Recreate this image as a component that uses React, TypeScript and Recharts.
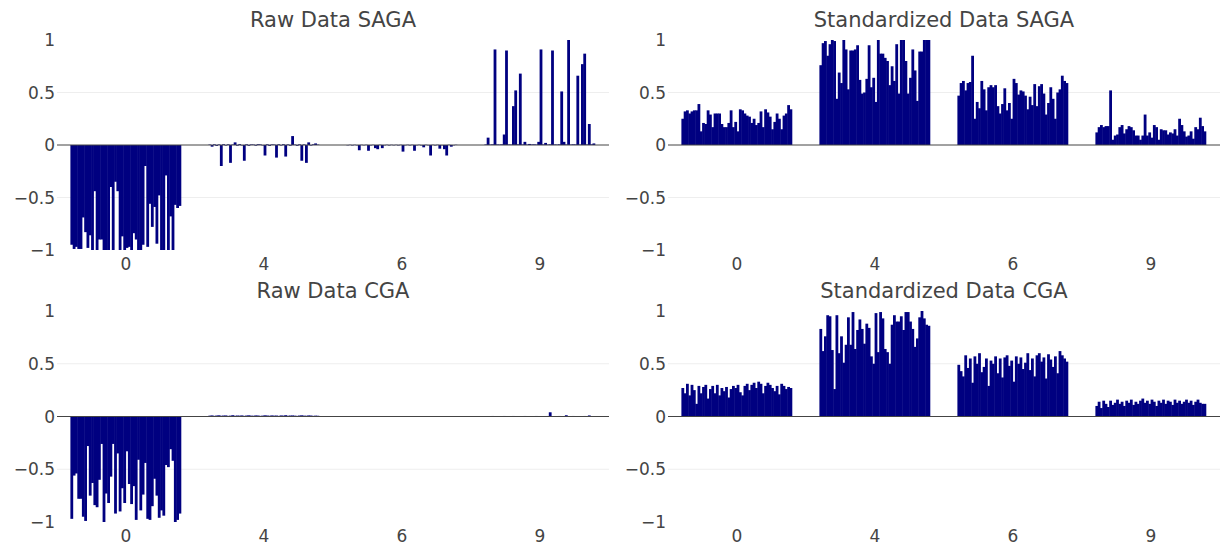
import React from "react";
import { BarChart, Bar, XAxis, YAxis, ReferenceLine, CartesianGrid } from "recharts";

// Class labels shown under each group of bars
const classLabels = ["0", "4", "6", "9"];
const yTicks = [-1, -0.5, 0, 0.5, 1];
const gridValues = [-0.5, 0.5];

// Raw Data SAGA, one array per class
const sagaRaw0 = [
  -0.95, -0.99, -0.97, -0.99, -0.99, -0.69, -0.83, -0.98, -0.86, -1.0,
  -0.44, -1.0, -0.9, -0.9, -1.0, -1.0, -1.0, -0.4, -1.0, -0.35,
  -0.44, -1.0, -0.87, -1.0, -0.98, -0.97, -1.0, -0.84, -0.9, -1.0,
  -1.0, -0.95, -0.2, -0.97, -0.56, -0.78, -0.59, -0.94, -0.48, -1.0,
  -1.0, -0.29, -1.0, -0.68, -1.0, -0.57, -0.6, -0.58,
];
const sagaRaw4 = [
  0.004, -0.016, 0.006, -0.008, 0.005, -0.2, 0.007, -0.005, 0.006, -0.17,
  0.004, 0.025, -0.006, 0.008, -0.004, -0.15, 0.006, -0.007, 0.005, 0.004,
  -0.006, 0.007, 0.005, -0.004, -0.1, 0.006, -0.008, 0.005, 0.004, -0.12,
  0.006, -0.005, 0.007, -0.11, 0.005, -0.006, 0.085, 0.004, -0.007, 0.006,
  -0.15, 0.005, -0.17, 0.025, -0.005, 0.006, 0.015, 0.004,
];
const sagaRaw6 = [
  -0.003, 0.002, -0.004, 0.002, -0.003, -0.05, 0.002, -0.003, 0.002, -0.055,
  -0.004, 0.002, -0.03, -0.04, 0.002, -0.03, -0.003, 0.002, -0.004, 0.002,
  -0.003, 0.002, -0.004, 0.002, -0.063, -0.003, 0.002, -0.004, 0.002, -0.055,
  -0.003, 0.002, -0.004, -0.022, 0.002, -0.003, -0.1, 0.002, -0.004, 0.002,
  -0.035, -0.003, -0.04, -0.1, 0.002, -0.016, -0.003, 0.002,
];
const sagaRaw9 = [
  0.005, 0.07, 0.004, 0.006, 0.91, 0.005, 0.004, 0.006, 0.1, 0.9,
  0.005, 0.004, 0.37, 0.52, 0.006, 0.68, 0.005, 0.03, 0.004, 0.01,
  0.005, 0.006, 0.004, 0.03, 0.91, 0.005, 0.02, 0.004, 0.006, 0.9,
  0.005, 0.004, 0.006, 0.51, 0.03, 0.005, 1.0, 0.004, 0.006, 0.005,
  0.66, 0.004, 0.77, 0.87, 0.005, 0.2, 0.006, 0.015,
];

// Raw Data CGA
const cgaRaw0 = [
  -0.97, -0.56, -0.54, -0.78, -0.78, -0.95, -0.99, -0.28, -0.75, -0.63,
  -0.84, -0.86, -0.6, -0.26, -1.0, -0.73, -0.82, -0.57, -0.26, -0.92,
  -0.35, -0.9, -0.68, -0.82, -0.33, -0.64, -0.83, -0.66, -0.98, -0.41,
  -0.89, -0.74, -0.44, -0.97, -0.98, -0.85, -0.59, -0.75, -0.96, -0.89,
  -0.94, -0.46, -0.48, -0.31, -0.42, -1.0, -0.98, -0.92,
];
const cgaRaw4 = [
  0.008, 0.01, 0.006, 0.009, 0.011, 0.007, 0.009, 0.01, 0.006, 0.008,
  0.012, 0.007, 0.009, 0.008, 0.01, 0.006, 0.009, 0.011, 0.008, 0.007,
  0.01, 0.009, 0.006, 0.008, 0.011, 0.009, 0.007, 0.01, 0.008, 0.009,
  0.006, 0.01, 0.008, 0.012, 0.007, 0.009, 0.01, 0.008, 0.006, 0.009,
  0.011, 0.008, 0.007, 0.01, 0.009, 0.006, 0.008, 0.007,
];
const cgaRaw6 = [
  0.002, 0.003, 0.002, 0.002, 0.003, 0.002, 0.003, 0.002, 0.002, 0.003,
  0.002, 0.003, 0.002, 0.002, 0.003, 0.002, 0.002, 0.003, 0.002, 0.003,
  0.002, 0.002, 0.003, 0.002, 0.003, 0.002, 0.002, 0.003, 0.002, 0.002,
  0.003, 0.002, 0.003, 0.002, 0.002, 0.003, 0.002, 0.002, 0.003, 0.002,
  0.003, 0.002, 0.002, 0.003, 0.002, 0.002, 0.003, 0.002,
];
const cgaRaw9 = [
  0.003, 0.004, 0.003, 0.005, 0.003, 0.004, 0.003, 0.004, 0.005, 0.003,
  0.004, 0.003, 0.005, 0.004, 0.003, 0.004, 0.003, 0.005, 0.003, 0.004,
  0.003, 0.004, 0.005, 0.003, 0.004, 0.003, 0.004, 0.005, 0.04, 0.003,
  0.004, 0.003, 0.005, 0.004, 0.003, 0.012, 0.004, 0.003, 0.005, 0.003,
  0.004, 0.003, 0.004, 0.005, 0.003, 0.01, 0.004, 0.003,
];

// Standardized Data SAGA
const sagaStd0 = [
  0.25, 0.32, 0.33, 0.3, 0.32, 0.33, 0.33, 0.39, 0.13, 0.21,
  0.2, 0.33, 0.29, 0.17, 0.3, 0.3, 0.3, 0.2, 0.17, 0.17,
  0.21, 0.33, 0.17, 0.22, 0.13, 0.34, 0.33, 0.3, 0.28, 0.27,
  0.21, 0.25, 0.19, 0.21, 0.32, 0.17, 0.34, 0.31, 0.27, 0.15,
  0.22, 0.3, 0.25, 0.15, 0.28, 0.3, 0.38, 0.34,
];
const sagaStd4 = [
  0.76, 0.97, 0.99, 0.85, 0.96, 1.0, 0.99, 0.44, 0.69, 0.59,
  1.0, 0.91, 0.53, 0.9, 0.9, 0.91, 0.95, 0.62, 0.49, 0.5,
  0.63, 0.95, 0.55, 0.64, 0.41, 1.0, 0.87, 0.87, 0.83, 0.8,
  0.57, 0.75, 0.61, 0.96, 0.49, 1.0, 1.0, 0.8, 0.49, 0.64,
  0.91, 0.71, 0.42, 0.89, 0.89, 1.0, 1.0, 1.0,
];
const sagaStd6 = [
  0.47, 0.59, 0.61, 0.52, 0.59, 0.6, 0.85, 0.25, 0.41, 0.35,
  0.61, 0.53, 0.33, 0.55, 0.57, 0.55, 0.57, 0.37, 0.3, 0.39,
  0.54, 0.33, 0.4, 0.25, 0.63, 0.59, 0.48, 0.52, 0.51, 0.47,
  0.34, 0.46, 0.38, 0.58, 0.37, 0.56, 0.58, 0.49, 0.29, 0.4,
  0.55, 0.44, 0.25, 0.5, 0.53, 0.66, 0.61, 0.59,
];
const sagaStd9 = [
  0.12, 0.17, 0.19, 0.17, 0.18, 0.18, 0.52, 0.05, 0.09, 0.1,
  0.17, 0.19, 0.11, 0.15, 0.18, 0.17, 0.14, 0.09, 0.09, 0.05,
  0.09, 0.29, 0.09, 0.12, 0.07, 0.19, 0.17, 0.05, 0.15, 0.14,
  0.14, 0.1, 0.12, 0.11, 0.15, 0.09, 0.25, 0.19, 0.13, 0.08,
  0.09, 0.13, 0.06, 0.17, 0.15, 0.26, 0.18, 0.13,
];

// Standardized Data CGA
const cgaStd0 = [
  0.27, 0.22, 0.31, 0.2, 0.3, 0.25, 0.12, 0.29, 0.22, 0.28,
  0.3, 0.17, 0.26, 0.29, 0.22, 0.3, 0.2, 0.27, 0.24, 0.28,
  0.18, 0.26, 0.29, 0.27, 0.3, 0.23, 0.2, 0.29, 0.31, 0.25,
  0.3, 0.32, 0.27, 0.33, 0.31, 0.22, 0.29, 0.32, 0.3, 0.27,
  0.24, 0.29, 0.21, 0.31, 0.29, 0.26, 0.28, 0.27,
];
const cgaStd4 = [
  0.83, 0.62, 0.76, 0.96, 0.95, 0.63, 0.26, 0.96, 0.6, 0.76,
  0.51, 0.68, 0.94, 0.68, 0.99, 0.64, 0.82, 0.92, 0.83, 0.69,
  0.88, 0.84, 0.57, 0.5, 0.98, 0.61, 0.99, 0.93, 0.64, 0.61,
  0.5, 0.87, 0.96, 0.9, 0.9, 0.95, 0.82, 0.99, 0.99, 0.9,
  0.83, 0.66, 0.74, 0.94, 1.0, 0.93, 0.87, 0.86,
];
const cgaStd6 = [
  0.49, 0.43, 0.38, 0.58, 0.46, 0.55, 0.32, 0.57, 0.5, 0.6,
  0.42, 0.47, 0.55, 0.29, 0.53, 0.5, 0.57, 0.41, 0.55, 0.37,
  0.56, 0.58, 0.48, 0.53, 0.33, 0.57, 0.5, 0.56, 0.45, 0.51,
  0.6, 0.44, 0.55, 0.38, 0.58, 0.6, 0.52, 0.56, 0.36, 0.59,
  0.54, 0.47, 0.57, 0.41, 0.62, 0.58, 0.55, 0.52,
];
const cgaStd9 = [
  0.1, 0.14, 0.08, 0.15, 0.12, 0.09, 0.15, 0.11, 0.13, 0.16,
  0.12, 0.14, 0.1, 0.15, 0.13, 0.16, 0.11, 0.14, 0.12, 0.15,
  0.17, 0.13, 0.15, 0.12, 0.16, 0.14, 0.1, 0.15, 0.13, 0.16,
  0.12, 0.15, 0.14, 0.11, 0.16, 0.13, 0.15, 0.12, 0.14, 0.16,
  0.13, 0.15, 0.11, 0.14, 0.16, 0.13, 0.12, 0.12,
];

const FONT = "'DejaVu Sans', Verdana, sans-serif";
const TEXT = "#444";
const BAR = "#000080";

const Y_AXIS_W = 57;
const PLOT_W = 552;
const GROUP_FRACTION = 0.8; // bargap 0.2

// spread each class's samples side by side across its category slot
function buildRows(groups: number[][]) {
  const rows: { x: number; v: number }[] = [];
  groups.forEach((vals, g) => {
    const n = vals.length;
    vals.forEach((v, i) => {
      rows.push({
        x: g - GROUP_FRACTION / 2 + ((i + 0.5) * GROUP_FRACTION) / n,
        v,
      });
    });
  });
  return rows;
}

const fmtY = (t: number) => (t < 0 ? "\u2212" + String(-t) : String(t));

// bar drawn at the position recharts gives, widened to fill its slot
const makeSlotBar = (slotW: number) => (props: any) => {
  const { x, y, width, height } = props;
  if (height == null || isNaN(height)) return <g />;
  const cx = x + width / 2;
  const top = Math.min(y, y + height);
  const h = Math.abs(height);
  return <rect x={cx - slotW / 2} y={top} width={slotW} height={h} fill={BAR} />;
};

interface PanelProps {
  title: string;
  groups: number[][];
  left: number;
  top: number;
  plotH: number;
}

const Panel: React.FC<PanelProps> = ({ title, groups, left, top, plotH }) => {
  const rows = buildRows(groups);
  const n = groups[0].length;
  const slotW = ((PLOT_W / groups.length) * GROUP_FRACTION) / n;
  const marginTop = 40;
  const xAxisH = 25;

  return (
    <div style={{ position: "absolute", left, top }}>
      <div
        style={{
          position: "absolute",
          left: Y_AXIS_W,
          width: PLOT_W,
          top: 8,
          textAlign: "center",
          fontFamily: FONT,
          fontSize: 21,
          lineHeight: "24px",
          color: TEXT,
          whiteSpace: "nowrap",
        }}
      >
        {title}
      </div>
      <BarChart
        width={Y_AXIS_W + PLOT_W + 1}
        height={marginTop + plotH + xAxisH}
        data={rows}
        margin={{ top: marginTop, right: 1, left: 0, bottom: 0 }}
        barGap={0}
        barCategoryGap={0}
      >
        <CartesianGrid
          vertical={false}
          horizontalValues={gridValues}
          stroke="#eeeeee"
          strokeWidth={1}
        />
        <XAxis
          type="number"
          dataKey="x"
          domain={[-0.5, 3.5]}
          ticks={[0, 1, 2, 3]}
          interval={0}
          tickFormatter={(t: number) => classLabels[t]}
          axisLine={false}
          tickLine={false}
          tickSize={0}
          tickMargin={8}
          height={xAxisH}
          allowDataOverflow
          tick={{ fill: TEXT, fontSize: 17, fontFamily: FONT }}
        />
        <YAxis
          type="number"
          domain={[-1, 1]}
          ticks={yTicks}
          interval={0}
          tickFormatter={fmtY}
          axisLine={false}
          tickLine={false}
          tickSize={0}
          tickMargin={2}
          width={Y_AXIS_W}
          allowDataOverflow
          tick={{ fill: TEXT, fontSize: 17, fontFamily: FONT }}
        />
        <Bar
          dataKey="v"
          fill={BAR}
          barSize={2}
          shape={makeSlotBar(slotW + 0.5)}
          isAnimationActive={false}
        />
        <ReferenceLine y={0} stroke="#444" strokeWidth={1} />
      </BarChart>
    </div>
  );
};

export default function App() {
  return (
    <div
      style={{
        position: "absolute",
        left: 0,
        top: 0,
        width: 1221,
        height: 550,
        background: "#fff",
        overflow: "hidden",
      }}
    >
      <Panel
        title="Raw Data SAGA"
        groups={[sagaRaw0, sagaRaw4, sagaRaw6, sagaRaw9]}
        left={0}
        top={0}
        plotH={210}
      />
      <Panel
        title="Standardized Data SAGA"
        groups={[sagaStd0, sagaStd4, sagaStd6, sagaStd9]}
        left={611}
        top={0}
        plotH={210}
      />
      <Panel
        title="Raw Data CGA"
        groups={[cgaRaw0, cgaRaw4, cgaRaw6, cgaRaw9]}
        left={0}
        top={271}
        plotH={211}
      />
      <Panel
        title="Standardized Data CGA"
        groups={[cgaStd0, cgaStd4, cgaStd6, cgaStd9]}
        left={611}
        top={271}
        plotH={211}
      />
    </div>
  );
}
